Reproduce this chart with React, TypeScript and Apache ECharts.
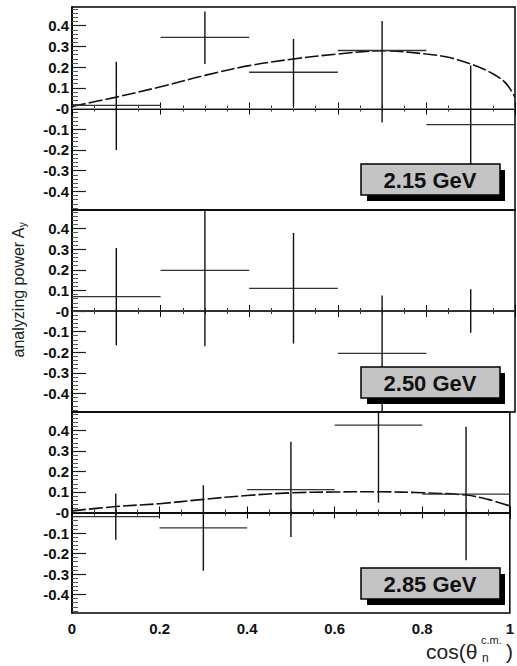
import React, { useEffect, useRef } from "react";
import * as echarts from "echarts";

// ---- data ----
const binCenters = [0.1, 0.3, 0.5, 0.7, 0.9];
const binHalfWidth = [0.1, 0.1, 0.1, 0.1, 0.1];

const energies = ["2.15 GeV", "2.50 GeV", "2.85 GeV"];

const ay215 = [0.015, 0.343, 0.175, 0.28, -0.078];
const lo215 = [-0.2, 0.215, 0.01, -0.067, -0.36];
const hi215 = [0.226, 0.468, 0.336, 0.423, 0.207];

const ay250 = [0.07, 0.197, 0.11, -0.206, 0.0];
const lo250 = [-0.166, -0.171, -0.158, -0.49, -0.106];
const hi250 = [0.306, 0.565, 0.379, 0.075, 0.106];

const ay285 = [-0.02, -0.075, 0.112, 0.426, 0.09];
const lo285 = [-0.133, -0.284, -0.12, 0.048, -0.233];
const hi285 = [0.093, 0.133, 0.345, 0.8, 0.418];

const curveX215 = [0, 0.1, 0.2, 0.3, 0.4, 0.5, 0.6, 0.7, 0.8, 0.85, 0.9, 0.95, 0.98, 1.0];
const curveY215 = [0.01, 0.055, 0.105, 0.16, 0.207, 0.239, 0.263, 0.279, 0.263, 0.247, 0.215, 0.168, 0.12, 0.055];

const curveX285 = [0, 0.1, 0.2, 0.3, 0.4, 0.5, 0.6, 0.7, 0.8, 0.9, 0.95, 1.0];
const curveY285 = [0.008, 0.029, 0.043, 0.064, 0.083, 0.096, 0.1, 0.101, 0.096, 0.085, 0.064, 0.032];

const yTickValues = [-0.4, -0.3, -0.2, -0.1, 0, 0.1, 0.2, 0.3, 0.4];
const yMinorTickValues = [
  -0.48, -0.46, -0.44, -0.42, -0.38, -0.36, -0.34, -0.32, -0.28, -0.26, -0.24, -0.22,
  -0.18, -0.16, -0.14, -0.12, -0.08, -0.06, -0.04, -0.02, 0.02, 0.04, 0.06, 0.08,
  0.12, 0.14, 0.16, 0.18, 0.22, 0.24, 0.26, 0.28, 0.32, 0.34, 0.36, 0.38, 0.42, 0.44, 0.46, 0.48,
];
const xTickLabels = ["0", "0.2", "0.4", "0.6", "0.8", "1"];

const yTitle = "analyzing power A";
const yTitleSub = "y";

const FONT = "'Liberation Sans', Arial, Helvetica, sans-serif";

const panels = [
  { ay: ay215, lo: lo215, hi: hi215, curveX: curveX215, curveY: curveY215, zero: "#999" },
  { ay: ay250, lo: lo250, hi: hi250, curveX: null as number[] | null, curveY: null as number[] | null, zero: "#555" },
  { ay: ay285, lo: lo285, hi: hi285, curveX: curveX285, curveY: curveY285, zero: null as string | null },
];

const gridTops = [7, 210, 412];
const gridHeights = [203, 202, 201];
const boxTops = [164, 367, 568];

export default function App() {
  const ref = useRef<HTMLDivElement>(null);
  useEffect(() => {
    if (!ref.current) return;
    const chart = echarts.init(ref.current, undefined, { renderer: "svg" });

    const grid = gridTops.map((t, i) => ({
      left: 72,
      width: 443,
      top: t,
      height: gridHeights[i],
      show: true,
      borderColor: "#000",
      borderWidth: 1.5,
      backgroundColor: "transparent",
    }));

    const xAxisBottom = [0, 1, 2].map((i) => ({
      type: "value",
      gridIndex: i,
      min: 0,
      max: 1,
      interval: 0.2,
      position: "bottom",
      axisLine: { show: true, lineStyle: { color: "#000", width: 1.5 } },
      axisTick: { show: true, inside: true, length: 6, lineStyle: { color: "#000", width: 1 } },
      minorTick: { show: true, splitNumber: 4, length: 3, lineStyle: { color: "#333", width: 1 } },
      splitLine: { show: false },
      axisLabel: {
        show: i === 2,
        fontFamily: FONT,
        fontWeight: "bold",
        fontSize: 15,
        color: "#111",
        margin: 8,
        formatter: (v: number) => xTickLabels[Math.round(v * 5)] ?? "",
      },
    }));
    const xAxisTop = [0, 1, 2].map((i) => ({
      type: "value",
      gridIndex: i,
      min: 0,
      max: 1,
      interval: 0.2,
      position: "top",
      axisLine: { show: true, lineStyle: { color: "#000", width: 1.5 } },
      axisTick: { show: true, inside: true, length: 6, lineStyle: { color: "#000", width: 1 } },
      minorTick: { show: true, splitNumber: 4, length: 3, lineStyle: { color: "#333", width: 1 } },
      splitLine: { show: false },
      axisLabel: { show: false },
    }));

    const yAxisMain = [0, 1, 2].map((i) => ({
      type: "value",
      gridIndex: i,
      min: -0.49,
      max: 0.49,
      position: "left",
      axisLine: { show: true, lineStyle: { color: "#000", width: 1.5 } },
      axisTick: { show: true, inside: true, length: 14, customValues: yTickValues, lineStyle: { color: "#222", width: 1.2 } },
      splitLine: { show: false },
      axisLabel: {
        show: true,
        customValues: yTickValues,
        fontFamily: FONT,
        fontWeight: "bold",
        fontSize: 15,
        color: "#111",
        margin: 3,
        formatter: (v: number) => (Math.abs(v) < 1e-9 ? "-0" : v.toFixed(1)),
      },
    }));
    const yAxisMinor = [0, 1, 2].map((i) => ({
      type: "value",
      gridIndex: i,
      min: -0.49,
      max: 0.49,
      position: "left",
      axisLine: { show: false },
      axisTick: { show: true, inside: true, length: 6, customValues: yMinorTickValues, lineStyle: { color: "#555", width: 1 } },
      splitLine: { show: false },
      axisLabel: { show: false },
    }));

    const series: any[] = [];
    panels.forEach((p, i) => {
      if (p.zero) {
        series.push({
          type: "line",
          xAxisIndex: i,
          yAxisIndex: i,
          data: [[0, 0], [1, 0]],
          showSymbol: false,
          lineStyle: { color: p.zero, width: 1 },
          z: 1,
        });
      }
      if (p.curveX && p.curveY) {
        series.push({
          type: "line",
          xAxisIndex: i,
          yAxisIndex: i,
          data: p.curveX.map((x, k) => [x, p.curveY![k]]),
          showSymbol: false,
          smooth: 0.35,
          lineStyle: { color: "#111", width: 1.6, type: [14, 3] },
          z: 3,
        });
      }
      series.push({
        type: "custom",
        xAxisIndex: i,
        yAxisIndex: i,
        encode: { x: 0, y: 1 },
        data: binCenters.map((x, k) => [x, p.ay[k], p.lo[k], p.hi[k], binHalfWidth[k]]),
        z: 4,
        renderItem: (params: any, api: any) => {
          const x = api.value(0);
          const y = api.value(1);
          const lo = api.value(2);
          const hi = api.value(3);
          const hw = api.value(4);
          const cs = params.coordSys;
          const clampY = (v: number) => Math.max(cs.y, Math.min(cs.y + cs.height, v));
          const pc = api.coord([x, y]);
          const pl = api.coord([x - hw, y]);
          const pr = api.coord([x + hw, y]);
          const pLo = api.coord([x, lo]);
          const pHi = api.coord([x, hi]);
          return {
            type: "group",
            children: [
              {
                type: "line",
                shape: { x1: pl[0], y1: pc[1], x2: pr[0], y2: pc[1] },
                style: { stroke: "#333", lineWidth: 1.3 },
              },
              {
                type: "line",
                shape: { x1: pc[0], y1: clampY(pLo[1]), x2: pc[0], y2: clampY(pHi[1]) },
                style: { stroke: "#111", lineWidth: 1.4 },
              },
            ],
          };
        },
      });
    });

    const graphic: any[] = [];
    boxTops.forEach((t, i) => {
      graphic.push({
        type: "rect",
        shape: { x: 367, y: t + 6, width: 138, height: 31 },
        style: { fill: "#000" },
        z: 100,
      });
      graphic.push({
        type: "rect",
        shape: { x: 361, y: t, width: 139, height: 31 },
        style: { fill: "#c4c4c4", stroke: "#000", lineWidth: 1.5 },
        z: 101,
      });
      graphic.push({
        type: "text",
        x: 430,
        y: t + 16,
        style: {
          text: energies[i],
          fontFamily: FONT,
          fontWeight: "bold",
          fontSize: 22,
          fill: "#111",
          align: "center",
          verticalAlign: "middle",
        },
        z: 102,
      });
    });

    // y title
    graphic.push({
      type: "text",
      x: 18,
      y: 290,
      rotation: Math.PI / 2,
      style: {
        text: `{a|${yTitle}}{s|${yTitleSub}}`,
        align: "center",
        verticalAlign: "middle",
        rich: {
          a: { fontFamily: FONT, fontSize: 16, fill: "#222", color: "#222" },
          s: { fontFamily: FONT, fontSize: 10, fill: "#222", color: "#222", padding: [9, 0, 0, 0] },
        },
      },
    });

    // x title
    graphic.push({
      type: "text",
      x: 426,
      y: 651,
      style: { text: "cos(θ", fontFamily: FONT, fontSize: 21, fill: "#222", verticalAlign: "middle" },
    });
    graphic.push({
      type: "text",
      x: 481,
      y: 640,
      style: { text: "c.m.", fontFamily: FONT, fontSize: 11, fill: "#222", verticalAlign: "middle" },
    });
    graphic.push({
      type: "text",
      x: 482,
      y: 658,
      style: { text: "n", fontFamily: FONT, fontSize: 12, fill: "#222", verticalAlign: "middle" },
    });
    graphic.push({
      type: "text",
      x: 506,
      y: 651,
      style: { text: ")", fontFamily: FONT, fontSize: 21, fill: "#222", verticalAlign: "middle" },
    });

    chart.setOption({
      animation: false,
      backgroundColor: "#fff",
      grid,
      xAxis: [...xAxisBottom, ...xAxisTop],
      yAxis: [...yAxisMain, ...yAxisMinor],
      series,
      graphic,
    } as any);

    return () => chart.dispose();
  }, []);

  return (
    <div
      ref={ref}
      style={{ position: "absolute", left: 0, top: 0, width: 517, height: 666, background: "#fff" }}
    />
  );
}
